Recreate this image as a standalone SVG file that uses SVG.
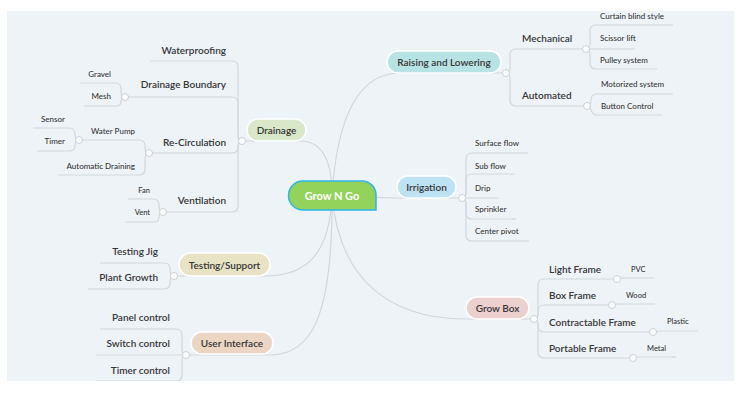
<svg xmlns="http://www.w3.org/2000/svg" width="746" height="395" viewBox="0 0 746 395">
  <style>
    .bg { fill: #eef3f8; }
    .ln { fill: none; stroke: #d2d7dc; stroke-width: 1.2; }
    .jn { fill: #ffffff; stroke: #cbd0d5; stroke-width: 1; }
    .pill { stroke: #ffffff; stroke-width: 1.5; }
    text { font-family: Lato, "Open Sans", "Liberation Sans", sans-serif; fill: #363636; dominant-baseline: central; }
    .t1 { font-size: 10px; font-weight: 600; text-anchor: middle; }
    .t2 { font-size: 10px; font-weight: 600; }
    .t3 { font-size: 8px; font-weight: 500; }
    .t4 { font-size: 7.5px; font-weight: 500; }
    .end { text-anchor: end; }
    .root-t { font-size: 11px; font-weight: 700; fill: #ffffff; text-anchor: middle; }
  </style>
  <defs>
    <clipPath id="canvas">
      <rect x="7" y="11" width="727" height="370"/>
    </clipPath>
  </defs>

  <rect class="bg" x="7" y="11" width="727" height="370"/>

  <g clip-path="url(#canvas)">
    <!-- connectors -->
    <g id="connectors">
      <!-- root to main topics -->
      <path class="ln" d="M332,195 Q340,73 400,73 H506"/>
      <path class="ln" d="M332,195 C360,195 372,198 397,198 H462"/>
      <path class="ln" d="M332,195 C338,270 380,319 466,319 H534"/>
      <path class="ln" d="M332,195 Q332,141 300,141 H242"/>
      <path class="ln" d="M332,195 C330,250 310,276 265,276 H174"/>
      <path class="ln" d="M332,195 C333,320 310,355 270,355 H186"/>

      <!-- Raising and Lowering -->
      <path class="ln" d="M506,73 Q510,73 510,67 V55 Q510,49 516,49 H586"/>
      <path class="ln" d="M506,73 Q510,73 510,79 V100 Q510,106 516,106 H587"/>
      <path class="ln" d="M586,49 Q590,49 590,43 V31 Q590,25 596,25 H673"/>
      <path class="ln" d="M586,49 H635"/>
      <path class="ln" d="M586,49 Q590,49 590,55 V63 Q590,69 596,69 H657"/>
      <path class="ln" d="M587,106 Q591,106 591,100 Q591,94 597,94 H673"/>
      <path class="ln" d="M587,106 C592,106 590,115 597,115 H662"/>

      <!-- Irrigation -->
      <path class="ln" d="M462,198 Q466,198 466,192 V159 Q466,153 472,153 H528"/>
      <path class="ln" d="M462,198 Q466,198 466,192 V180 Q466,174 472,174 H515"/>
      <path class="ln" d="M462,198 H499"/>
      <path class="ln" d="M462,198 Q466,198 466,204 V213 Q466,219 472,219 H516"/>
      <path class="ln" d="M462,198 Q466,198 466,204 V235 Q466,241 472,241 H529"/>

      <!-- Grow Box -->
      <path class="ln" d="M534,319 Q538,319 538,313 V285 Q538,279 544,279 H617"/>
      <path class="ln" d="M534,319 Q538,319 538,313 V311 Q538,305 544,305 H612"/>
      <path class="ln" d="M534,319 Q538,319 538,325 V326 Q538,332 544,332 H653"/>
      <path class="ln" d="M534,319 Q538,319 538,325 V352 Q538,358 544,358 H633"/>
      <path class="ln" d="M617,279 Q620,278 625,278 H654"/>
      <path class="ln" d="M612,305 Q615,304 620,304 H655"/>
      <path class="ln" d="M653,332 Q656,331 661,331 H698"/>
      <path class="ln" d="M633,358 Q636,357 641,357 H676"/>

      <!-- Drainage -->
      <path class="ln" d="M242,141 Q238,141 238,135 V67 Q238,61 232,61 H150"/>
      <path class="ln" d="M242,141 Q238,141 238,135 V103 Q238,97 232,97 H125"/>
      <path class="ln" d="M242,141 Q238,141 238,147 Q238,153 232,153 H149"/>
      <path class="ln" d="M242,141 Q238,141 238,147 V206 Q238,212 232,212 H163"/>
      <path class="ln" d="M125,97 Q121,97 121,91 V89 Q121,83 115,83 H80"/>
      <path class="ln" d="M125,97 Q121,97 121,101.5 Q121,106 116,106 H84"/>
      <path class="ln" d="M149,153 Q145,153 145,147 V146 Q145,140 139,140 H79"/>
      <path class="ln" d="M149,153 Q145,153 145,159 V169 Q145,175 139,175 H58"/>
      <path class="ln" d="M79,140 Q75,140 75,134 Q75,128 69,128 H33"/>
      <path class="ln" d="M79,140 Q75,140 75,145.5 Q75,151 69,151 H37"/>
      <path class="ln" d="M163,212 Q159,212 159,206 V205 Q159,199 153,199 H128"/>
      <path class="ln" d="M163,212 Q159,212 159,217 Q159,222 154,222 H125"/>

      <!-- Testing/Support -->
      <path class="ln" d="M174,276 Q170,276 170,270 V269 Q170,263 164,263 H100"/>
      <path class="ln" d="M174,276 Q170,276 170,282 V283 Q170,289 164,289 H88"/>

      <!-- User Interface -->
      <path class="ln" d="M186,355 Q182,355 182,349 V335 Q182,329 176,329 H100"/>
      <path class="ln" d="M186,355 H96"/>
      <path class="ln" d="M186,355 Q182,355 182,361 V375 Q182,381 176,381 H96"/>

      <!-- junction dots -->
      <circle class="jn" cx="506" cy="73" r="3.5"/>
      <circle class="jn" cx="586" cy="49" r="3.5"/>
      <circle class="jn" cx="587" cy="106" r="3.5"/>
      <circle class="jn" cx="462" cy="198" r="3.5"/>
      <circle class="jn" cx="534" cy="319" r="3.5"/>
      <circle class="jn" cx="617" cy="279" r="3.5"/>
      <circle class="jn" cx="612" cy="305" r="3.5"/>
      <circle class="jn" cx="653" cy="332" r="3.5"/>
      <circle class="jn" cx="633" cy="358" r="3.5"/>
      <circle class="jn" cx="242" cy="141" r="3.5"/>
      <circle class="jn" cx="125" cy="97" r="3.5"/>
      <circle class="jn" cx="149" cy="153" r="3.5"/>
      <circle class="jn" cx="79" cy="140" r="3.5"/>
      <circle class="jn" cx="163" cy="212" r="3.5"/>
      <circle class="jn" cx="174" cy="276" r="3.5"/>
      <circle class="jn" cx="186" cy="355" r="3.5"/>
    </g>

    <!-- root -->
    <g id="grow-n-go">
      <path d="M303,181 H362 A14,14 0 0 1 376,195 V210 H303 A14.5,14.5 0 0 1 303,181 Z" fill="#93d35b" stroke="#2eb5ea" stroke-width="1.5"/>
      <text class="root-t" x="332" y="195.5">Grow N Go</text>
    </g>

    <!-- right side -->
    <g id="raising-lowering">
      <rect class="pill" x="387" y="51" width="114" height="22" rx="11" fill="#b7e3e4"/>
      <text class="t1" x="444" y="62">Raising and Lowering</text>
    </g>
    <g id="mechanical"><text class="t2" x="522" y="38">Mechanical</text></g>
    <g id="curtain-blind"><text class="t3" x="600" y="16">Curtain blind style</text></g>
    <g id="scissor-lift"><text class="t3" x="600" y="38">Scissor lift</text></g>
    <g id="pulley-system"><text class="t3" x="600" y="60">Pulley system</text></g>
    <g id="automated"><text class="t2" x="522" y="95">Automated</text></g>
    <g id="motorized-system"><text class="t3" x="601" y="84">Motorized system</text></g>
    <g id="button-control"><text class="t3" x="601" y="106">Button Control</text></g>

    <g id="irrigation">
      <rect class="pill" x="397" y="176" width="59" height="22" rx="11" fill="#bce2f3"/>
      <text class="t1" x="426.5" y="187">Irrigation</text>
    </g>
    <g id="surface-flow"><text class="t3" x="475" y="143">Surface flow</text></g>
    <g id="sub-flow"><text class="t3" x="475" y="165.5">Sub flow</text></g>
    <g id="drip"><text class="t3" x="475" y="187.5">Drip</text></g>
    <g id="sprinkler"><text class="t3" x="475" y="209">Sprinkler</text></g>
    <g id="center-pivot"><text class="t3" x="475" y="231">Center pivot</text></g>

    <g id="grow-box">
      <rect class="pill" x="466" y="297" width="63" height="22" rx="11" fill="#ecd0cf"/>
      <text class="t1" x="497.5" y="308">Grow Box</text>
    </g>
    <g id="light-frame"><text class="t2" x="549" y="269">Light Frame</text></g>
    <g id="pvc"><text class="t4" x="631" y="269">PVC</text></g>
    <g id="box-frame"><text class="t2" x="549" y="295">Box Frame</text></g>
    <g id="wood"><text class="t4" x="626" y="295">Wood</text></g>
    <g id="contractable-frame"><text class="t2" x="549" y="322">Contractable Frame</text></g>
    <g id="plastic"><text class="t4" x="667" y="321">Plastic</text></g>
    <g id="portable-frame"><text class="t2" x="549" y="348">Portable Frame</text></g>
    <g id="metal"><text class="t4" x="647" y="348">Metal</text></g>

    <!-- left side -->
    <g id="drainage">
      <rect class="pill" x="247" y="119" width="59" height="22" rx="11" fill="#d9e8c9"/>
      <text class="t1" x="276.5" y="130">Drainage</text>
    </g>
    <g id="waterproofing"><text class="t2 end" x="226" y="50">Waterproofing</text></g>
    <g id="drainage-boundary"><text class="t2 end" x="226" y="84">Drainage Boundary</text></g>
    <g id="gravel"><text class="t3 end" x="111" y="74">Gravel</text></g>
    <g id="mesh"><text class="t3 end" x="111" y="96">Mesh</text></g>
    <g id="re-circulation"><text class="t2 end" x="226" y="142">Re-Circulation</text></g>
    <g id="water-pump"><text class="t3 end" x="135" y="131">Water Pump</text></g>
    <g id="sensor"><text class="t3 end" x="65" y="119">Sensor</text></g>
    <g id="timer"><text class="t3 end" x="65" y="141">Timer</text></g>
    <g id="automatic-draining"><text class="t3 end" x="135" y="166">Automatic Draining</text></g>
    <g id="ventilation"><text class="t2 end" x="226" y="200">Ventilation</text></g>
    <g id="fan"><text class="t4 end" x="150" y="190">Fan</text></g>
    <g id="vent"><text class="t4 end" x="150" y="212">Vent</text></g>

    <g id="testing-support">
      <rect class="pill" x="179" y="253" width="91" height="23" rx="11.5" fill="#e8e3c4"/>
      <text class="t1" x="224.5" y="264.5">Testing/Support</text>
    </g>
    <g id="testing-jig"><text class="t2 end" x="158" y="251">Testing Jig</text></g>
    <g id="plant-growth"><text class="t2 end" x="158" y="277">Plant Growth</text></g>

    <g id="user-interface">
      <rect class="pill" x="191" y="332" width="82" height="22" rx="11" fill="#ebd6c4"/>
      <text class="t1" x="232" y="343">User Interface</text>
    </g>
    <g id="panel-control"><text class="t2 end" x="170" y="317">Panel control</text></g>
    <g id="switch-control"><text class="t2 end" x="170" y="343">Switch control</text></g>
    <g id="timer-control"><text class="t2 end" x="170" y="370">Timer control</text></g>
  </g>
</svg>
